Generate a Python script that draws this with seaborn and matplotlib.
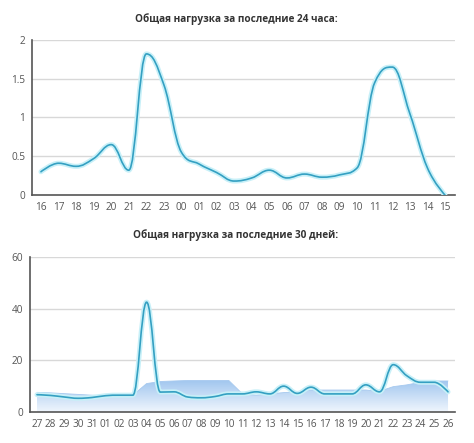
import numpy as np
import pandas as pd
import matplotlib
matplotlib.use("Agg")
import matplotlib.pyplot as plt
from matplotlib.path import Path
from matplotlib.patches import PathPatch
from matplotlib.colors import LinearSegmentedColormap
import seaborn as sns

# last 24 hours
hours = ["16", "17", "18", "19", "20", "21", "22", "23", "00", "01", "02", "03",
         "04", "05", "06", "07", "08", "09", "10", "11", "12", "13", "14", "15"]
load_24h = [0.30, 0.41, 0.37, 0.47, 0.65, 0.32, 1.82, 1.42, 0.55, 0.40, 0.29, 0.18,
            0.22, 0.32, 0.22, 0.27, 0.23, 0.26, 0.35, 1.45, 1.65, 1.05, 0.35, 0.0]

# last 30 days
days = ["27", "28", "29", "30", "31", "01", "02", "03", "04", "05", "06", "07",
        "08", "09", "10", "11", "12", "13", "14", "15", "16", "17", "18", "19",
        "20", "21", "22", "23", "24", "25", "26"]
load_30d = [6.7, 6.4, 5.8, 5.3, 5.6, 6.3, 6.5, 6.5, 42.5, 7.7, 7.8, 5.8,
            5.5, 6.0, 7.0, 7.0, 7.8, 7.0, 10.0, 7.2, 9.6, 7.0, 7.0, 7.0,
            10.5, 7.8, 18.3, 14.0, 11.5, 11.5, 7.8]
avg_30d = [7.6, 7.4, 7.1, 6.8, 6.5, 6.3, 6.3, 6.5, 11.0, 11.8, 12.0, 12.2,
           12.2, 12.2, 12.2, 7.0, 6.5, 7.0, 7.5, 7.8, 8.5, 8.5, 8.5, 8.5,
           8.5, 8.0, 9.8, 10.5, 11.5, 12.0, 12.0]

LINE = "#34a0c2"
HALO = "#c8f0f8"
TEXT = "#555555"
AXIS = "#555555"
GRID = "#d8d8d8"


def spline_path(xs, ys, smoothing=1.5):
    # bezier spline through the points (highcharts style)
    n = len(xs)
    left = [(xs[i], ys[i]) for i in range(n)]
    right = [(xs[i], ys[i]) for i in range(n)]
    for i in range(1, n - 1):
        x, y = xs[i], ys[i]
        px, py = xs[i - 1], ys[i - 1]
        nx, ny = xs[i + 1], ys[i + 1]
        lx = (smoothing * x + px) / (smoothing + 1)
        ly = (smoothing * y + py) / (smoothing + 1)
        rx = (smoothing * x + nx) / (smoothing + 1)
        ry = (smoothing * y + ny) / (smoothing + 1)
        corr = (ry - ly) * (rx - x) / (rx - lx) + y - ry
        ly += corr
        ry += corr
        if ly > max(py, y):
            ly = max(py, y)
            ry = 2 * y - ly
        elif ly < min(py, y):
            ly = min(py, y)
            ry = 2 * y - ly
        if ry > max(ny, y):
            ry = max(ny, y)
            ly = 2 * y - ry
        elif ry < min(ny, y):
            ry = min(ny, y)
            ly = 2 * y - ry
        left[i] = (lx, ly)
        right[i] = (rx, ry)
    verts = [(xs[0], ys[0])]
    codes = [Path.MOVETO]
    for i in range(1, n):
        verts += [right[i - 1], left[i], (xs[i], ys[i])]
        codes += [Path.CURVE4] * 3
    return Path(verts, codes)


def draw_spline(ax, xs, ys):
    p = spline_path(list(xs), list(ys))
    ax.add_patch(PathPatch(p, fill=False, edgecolor=HALO, lw=3.6,
                           capstyle="round", joinstyle="round", zorder=3))
    ax.add_patch(PathPatch(p, fill=False, edgecolor=LINE, lw=1.2,
                           capstyle="round", joinstyle="round", zorder=4))


def style_axis(ax, labels, yticks, ylabels):
    ax.set_xticks(range(len(labels)))
    ax.set_xticklabels(labels)
    ax.set_yticks(yticks)
    ax.set_yticklabels(ylabels)
    ax.tick_params(axis="both", labelsize=7.2, colors=AXIS, labelcolor=TEXT,
                   length=3, width=0.8, pad=2)
    for s in ["top", "right"]:
        ax.spines[s].set_visible(False)
    for s in ["left", "bottom"]:
        ax.spines[s].set_color(AXIS)
        ax.spines[s].set_linewidth(1.2)
    for yv in yticks[1:]:
        ax.axhline(yv, color=GRID, lw=1.0, zorder=0)
    ax.set_xlabel("")
    ax.set_ylabel("")


sns.set_style("white")
plt.rcParams["font.family"] = ["Open Sans", "DejaVu Sans"]

fig = plt.figure(figsize=(4.74, 4.43), dpi=100)

# top chart
ax1 = fig.add_axes([0.0675, 0.5598, 0.8924, 0.35])
x1 = np.arange(len(hours))
draw_spline(ax1, x1, load_24h)
ax1.set_xlim(-0.51, len(hours) - 1 + 0.57)
ax1.set_ylim(0, 2)
style_axis(ax1, hours, [0, 0.5, 1, 1.5, 2], ["0", "0.5", "1", "1.5", "2"])
fig.text(0.498, 0.958, "Общая нагрузка за последние 24 часа:", ha="center", va="center",
         fontsize=7.2, fontweight="bold", color="#333333")

# bottom chart
ax2 = fig.add_axes([0.0633, 0.07, 0.8966, 0.35])
x2 = np.arange(len(days))
df = pd.DataFrame({"x": x2, "avg": avg_30d, "load": load_30d})

# gradient area
poly = ax2.fill_between(df["x"], 0, df["avg"], color="none", lw=0, zorder=1)
cmap = LinearSegmentedColormap.from_list("area", ["#f0f6fd", "#9cc3ee"])
grad = np.linspace(0, 1, 256).reshape(-1, 1)
img = ax2.imshow(grad, cmap=cmap, aspect="auto", origin="lower",
                 extent=[0, len(days) - 1, 0, 13], zorder=1)
img.set_clip_path(poly.get_paths()[0], transform=ax2.transData)
sns.lineplot(data=df, x="x", y="avg", color="#a6c9ef", lw=0.6, ax=ax2, zorder=2)

draw_spline(ax2, x2, load_30d)
ax2.set_xlim(-0.51, len(days) - 1 + 0.51)
ax2.set_ylim(0, 60)
style_axis(ax2, days, [0, 20, 40, 60], ["0", "20", "40", "60"])
fig.text(0.498, 0.47, "Общая нагрузка за последние 30 дней:", ha="center", va="center",
         fontsize=7.2, fontweight="bold", color="#333333")

fig.savefig("out.png", dpi=100)
